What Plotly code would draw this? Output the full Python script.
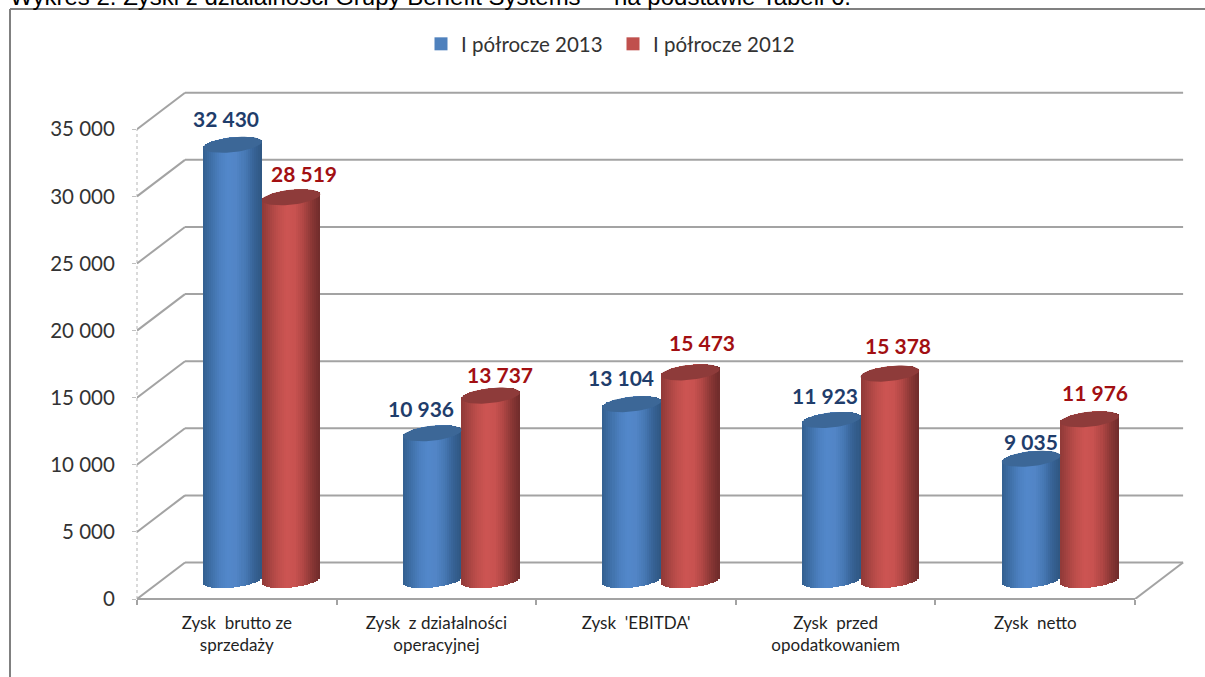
import numpy as np
import plotly.graph_objects as go

# ---- data -------------------------------------------------------------
categories = ["Zysk  brutto ze<br>sprzedaży", "Zysk  z działalności<br>operacyjnej", "Zysk  'EBITDA'",
              "Zysk  przed<br>opodatkowaniem", "Zysk  netto"]
series_names = ["I półrocze 2013", "I półrocze 2012"]
values_2013 = [32430, 10936, 13104, 11923, 9035]
values_2012 = [28519, 13737, 15473, 15378, 11976]
y_ticks = [0, 5000, 10000, 15000, 20000, 25000, 30000, 35000]
title_text = "Wykres 2. Zyski z działalności Grupy Benefit Systems  – na podstawie Tabeli 6."

# ---- styling / layout --------------------------------------------------
W, H = 1205, 677
L, R, T, B = 137, 16, 89, 78
X_MAX, Y_MAX = 5.27, 38000
PW, PH = W - L - R, H - T - B
PX_X = PW / X_MAX            # px per category
PX_Y = PH / Y_MAX            # px per value unit
DEPTH_X, DEPTH_Y = 48 / PX_X, 36.5 / PX_Y
BASE = 19 / PX_Y             # cylinder base centre above the axis floor
CAP_H, CAP_TILT = 7.5 / PX_Y, 3 / PX_Y
BAR_W = 58.5 / PX_X
CENTER = 0.5 + (DEPTH_X + 2 / PX_X) / 2
GRID = "#a3a3a3"
N_STRIPS = 29

blue_stops = ["#33608f", "#3f70a8", "#4c80c0", "#5388cb", "#5285c6", "#4779b5", "#386497", "#2f5782"]
red_stops = ["#8f3a38", "#a94543", "#c04f4c", "#cd5553", "#c85250", "#b04745", "#8a3735", "#6f2c2b"]
blue_cap, red_cap = "#3c6797", "#8e3b3a"
blue_label, red_label = "#1f3d6b", "#a20f12"
blue_shift = [(-7, 26), (-11, 25), (-11, 27), (-6, 24), (0, 17)]
red_shift = [(13, 24), (9, 21), (12, 30), (8, 28), (5, 27)]


def hex_rgb(c):
    return np.array([int(c[i:i + 2], 16) for i in (1, 3, 5)], float)


def ramp(stops, t):
    f = (t + 1) / 2 * (len(stops) - 1)
    i = min(int(f), len(stops) - 2)
    rgb = hex_rgb(stops[i]) * (1 - (f - i)) + hex_rgb(stops[i + 1]) * (f - i)
    return "rgb(%d,%d,%d)" % tuple(rgb)


fig = go.Figure()


def cylinders(values, side, stops, cap, name):
    xs, bases, heights, colors, capx, capy = [], [], [], [], [], []
    th = np.linspace(0, 2 * np.pi, 61)
    for i, v in enumerate(values):
        cx = i + CENTER + side * BAR_W / 2
        for k in range(N_STRIPS):
            t = -1 + (2 * k + 1) / N_STRIPS
            rim = CAP_H * np.sqrt(1 - t * t)
            b = BASE + CAP_TILT * t - rim
            xs.append(cx + t * BAR_W / 2)
            bases.append(b)
            heights.append(v + 2 * rim)
            colors.append(ramp(stops, t))
        capx += list(cx + np.cos(th) * BAR_W / 2) + [None]
        capy += list(v + BASE + CAP_TILT * np.cos(th) + CAP_H * np.sin(th)) + [None]
    fig.add_trace(go.Bar(x=xs, y=heights, base=bases, width=BAR_W / N_STRIPS * 1.15,
                         marker=dict(color=colors, line=dict(width=0)), showlegend=False,
                         hoverinfo="skip", name=name))
    fig.add_trace(go.Scatter(x=capx, y=capy, mode="lines", fill="toself", fillcolor=cap,
                             line=dict(width=0, color=cap), showlegend=False, hoverinfo="skip"))


cylinders(values_2013, -1, blue_stops, blue_cap, series_names[0])
cylinders(values_2012, 1, red_stops, red_cap, series_names[1])

# legend entries
for nm, col in zip(series_names, ["#4f81bd", "#c0504d"]):
    fig.add_trace(go.Scatter(x=[None], y=[None], mode="markers", name=nm,
                             marker=dict(symbol="square", size=13, color=col)))

shapes = []
for v in y_ticks:
    shapes.append(dict(type="line", xref="x", yref="y", x0=0, y0=v, x1=DEPTH_X, y1=v + DEPTH_Y, layer="below",
                       line=dict(color=GRID, width=2)))
    shapes.append(dict(type="line", xref="x", yref="y", x0=DEPTH_X, y0=v + DEPTH_Y, x1=5 + DEPTH_X, y1=v + DEPTH_Y,
                       layer="below", line=dict(color=GRID, width=2)))
shapes.append(dict(type="line", xref="x", yref="y", x0=5, y0=0, x1=5 + DEPTH_X, y1=DEPTH_Y, layer="below",
                   line=dict(color=GRID, width=2)))
shapes.append(dict(type="line", xref="paper", yref="y", x0=0, y0=0, x1=0, y1=35000, layer="below",
                   line=dict(color="#b5b5b5", width=1, dash="dot")))


def pap_x(px):
    return (px - L) / PW


def pap_y(py):
    return 1 - (py - T) / PH


shapes.append(dict(type="line", xref="paper", yref="paper", x0=pap_x(10), x1=pap_x(10), y0=pap_y(9), y1=pap_y(H),
                   line=dict(color="#808080", width=2)))
shapes.append(dict(type="line", xref="paper", yref="paper", x0=pap_x(10), x1=pap_x(W), y0=pap_y(9), y1=pap_y(9),
                   line=dict(color="#808080", width=2)))

annotations = [dict(xref="paper", yref="paper", x=pap_x(8), y=pap_y(-3), xanchor="left", yanchor="middle",
                    text=title_text, showarrow=False, font=dict(family="Liberation Sans", size=24, color="#000000"))]

for vals, side, col, shift in [(values_2013, -1, blue_label, blue_shift), (values_2012, 1, red_label, red_shift)]:
    for i, v in enumerate(vals):
        annotations.append(dict(x=i + CENTER + side * BAR_W / 2, y=v + BASE, xref="x", yref="y",
                                text=f"{v:,}".replace(",", " "), showarrow=False, xanchor="center", yanchor="middle",
                                xshift=shift[i][0], yshift=shift[i][1],
                                font=dict(family="Lato", size=21, color=col, weight="bold")))

fig.update_layout(
    width=W, height=H, margin=dict(l=L, r=R, t=T, b=B), paper_bgcolor="white", plot_bgcolor="white",
    barmode="overlay", bargap=0, shapes=shapes, annotations=annotations,
    legend=dict(orientation="h", x=pap_x(421), xanchor="left", y=pap_y(44), yanchor="middle",
                font=dict(family="Lato", size=20.5, color="#333333"), itemwidth=30, entrywidth=147,
                entrywidthmode="pixels", bgcolor="rgba(0,0,0,0)"),
    xaxis=dict(range=[0, X_MAX], tickmode="array", tickvals=[i + 0.5 for i in range(5)],
               ticktext=[f'<span style="font-size:17px">{c}</span>' for c in categories],
               ticks="", tickfont=dict(family="Lato", size=17, color="#1f1f1f"), showgrid=False, zeroline=False,
               showline=False, ticklabelstandoff=12,
               minor=dict(tickmode="array", tickvals=list(range(6)), ticks="outside", ticklen=5, tickcolor=GRID,
                          tickwidth=2, showgrid=False)),
    yaxis=dict(range=[0, Y_MAX], tickmode="array", tickvals=y_ticks,
               ticktext=[f"{v:,}".replace(",", " ") for v in y_ticks], ticks="outside", ticklen=4, tickcolor="#c0c0c0",
               tickfont=dict(family="Lato", size=20.5, color="#333333"), showgrid=False, zeroline=False, showline=False,
               ticklabelstandoff=13),
)
# front floor edge, on top of the axis position
fig.add_shape(type="line", xref="x", yref="paper", x0=0, x1=5, y0=0, y1=0, line=dict(color=GRID, width=2),
              layer="below")

fig.write_html("out.html", config={"displayModeBar": False},
               post_script="document.body.style.margin='0';document.body.style.overflow='hidden';")
